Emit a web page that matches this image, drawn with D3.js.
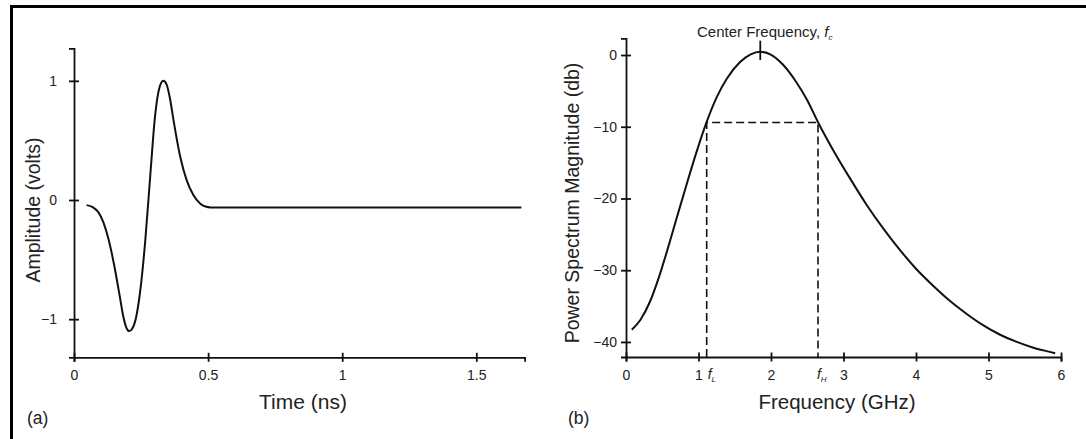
<!DOCTYPE html>
<html>
<head>
<meta charset="utf-8">
<script src="https://cdn.jsdelivr.net/npm/d3@7"></script>
<style>
    body { margin: 0; background: #fff; }
    svg { display: block; font-family: "Liberation Sans", Arial, Helvetica, sans-serif; }
    .tick text { fill: #222; }
</style>
</head>
<body>
<svg id="chart" width="1086" height="439"></svg>
<script>
// (a) pulse
var pulseTime  = [0.047, 0.07, 0.09, 0.11, 0.13, 0.15, 0.17, 0.184, 0.195, 0.206, 0.217, 0.231,
                  0.246, 0.265, 0.284, 0.302, 0.317, 0.333, 0.345, 0.358, 0.371, 0.396, 0.42,
                  0.445, 0.47, 0.49, 0.51, 1.668];
var pulseVolts = [-0.043, -0.06, -0.10, -0.19, -0.34, -0.55, -0.80, -0.98, -1.07, -1.10, -1.08, -0.99,
                  -0.78, -0.36, 0.195, 0.70, 0.93, 1.0, 0.97, 0.85, 0.67, 0.363, 0.167,
                  0.041, -0.03, -0.055, -0.062, -0.062];
var timeTicks = [0, 0.5, 1, 1.5];
var voltTicks = [-1, 0, 1];

// (b) spectrum
var freqGHz = [0.08, 0.2, 0.33, 0.45, 0.57, 0.70, 0.84, 0.98, 1.11, 1.25, 1.39, 1.57, 1.72, 1.85,
               1.99, 2.17, 2.35, 2.50, 2.65, 2.86, 3.09, 3.32, 3.55, 3.78, 4.01, 4.24, 4.47, 4.70,
               4.93, 5.16, 5.39, 5.62, 5.83, 5.92];
var powerDb = [-38.3, -36.9, -34.4, -31.1, -27.2, -22.7, -17.9, -13.3, -9.4, -5.9, -3.3, -1.0, 0.1, 0.45,
               0.1, -1.4, -3.8, -6.3, -9.4, -13.3, -17.2, -20.9, -24.2, -27.2, -29.9, -32.2, -34.3, -36.1,
               -37.7, -39.0, -40.0, -40.8, -41.35, -41.57];
var freqTicks = [0, 1, 2, 3, 4, 5, 6];
var dbTicks = [-40, -30, -20, -10, 0];
var centerFreq = 1.852;
var bandLow = 1.113;
var bandHigh = 2.648;
var bandLevel = -9.4;

var svg = d3.select("#chart");
var ink = "#111";
var face = "'Liberation Sans', Arial, Helvetica, sans-serif";

function fmt(d){
    return d < 0 ? "\u2212" + (-d) : "" + d;
}

// frame (left and top edges only)
svg.append("line").attr("x1", 11.5).attr("y1", 6.5).attr("x2", 1086).attr("y2", 6.5)
    .attr("stroke", "#000").attr("stroke-width", 3);
svg.append("line").attr("x1", 11.5).attr("y1", 5).attr("x2", 11.5).attr("y2", 439)
    .attr("stroke", "#000").attr("stroke-width", 3);

function crossTicks(g, horizontal){
    g.attr("font-family", face);
    g.select(".domain").attr("stroke", ink).attr("stroke-width", 1.8);
    g.selectAll(".tick line").attr("stroke", ink).attr("stroke-width", 1.8);
    if(horizontal){
        g.selectAll(".tick line").attr("y1", -4.5).attr("y2", 4.5);
    } else{
        g.selectAll(".tick line").attr("x1", -5).attr("x2", 5);
    }
    g.selectAll(".tick text").attr("font-size", 14);
}

// ---------- panel (a) ----------
var xL = d3.scaleLinear().domain([0, 1.68]).range([74, 524.6]);
var yL = d3.scaleLinear().domain([-1.32, 1.273]).range([357.3, 48.3]);

var gxL = svg.append("g").attr("transform", "translate(0," + yL(-1.32) + ")")
    .call(d3.axisBottom(xL).tickValues(timeTicks).tickFormat(fmt).tickSizeOuter(0).tickSize(4.5).tickPadding(6));
crossTicks(gxL, true);
gxL.selectAll(".tick text").attr("dy", "0.9em");

var gyL = svg.append("g").attr("transform", "translate(" + xL(0) + ",0)")
    .call(d3.axisLeft(yL).tickValues(voltTicks).tickFormat(fmt).tickSizeOuter(0).tickSize(5).tickPadding(12));
crossTicks(gyL, false);

var pulse = pulseTime.map(function(t, i){ return [t, pulseVolts[i]]; });
svg.append("path").datum(pulse)
    .attr("fill", "none").attr("stroke", ink).attr("stroke-width", 2)
    .attr("d", d3.line().x(function(d){ return xL(d[0]); }).y(function(d){ return yL(d[1]); })
        .curve(d3.curveMonotoneX));

svg.append("text").attr("x", 303).attr("y", 409).attr("text-anchor", "middle")
    .attr("font-size", 21).attr("fill", "#222").text("Time (ns)");
svg.append("text").attr("transform", "translate(40,210) rotate(-90)").attr("text-anchor", "middle")
    .attr("font-size", 19.5).attr("fill", "#222").text("Amplitude (volts)");
svg.append("text").attr("x", 27).attr("y", 424)
    .attr("font-size", 17.5).attr("fill", "#222").text("(a)");

// ---------- panel (b) ----------
var xR = d3.scaleLinear().domain([0, 6]).range([626, 1061]);
var yR = d3.scaleLinear().domain([-42.1, 2.33]).range([357, 38.3]);

var gxR = svg.append("g").attr("transform", "translate(0," + yR(-42.1) + ")")
    .call(d3.axisBottom(xR).tickValues(freqTicks).tickFormat(fmt).tickSizeOuter(0).tickSize(4.5).tickPadding(6));
crossTicks(gxR, true);
gxR.selectAll(".tick text").attr("dy", "0.9em");

var gyR = svg.append("g").attr("transform", "translate(" + xR(0) + ",0)")
    .call(d3.axisLeft(yR).tickValues(dbTicks).tickFormat(fmt).tickSizeOuter(0).tickSize(5).tickPadding(4));
crossTicks(gyR, false);

// -10 dB band
var band = [[bandLow, yR.domain()[0]], [bandLow, bandLevel], [bandHigh, bandLevel], [bandHigh, yR.domain()[0]]];
svg.append("path").datum(band)
    .attr("fill", "none").attr("stroke", ink).attr("stroke-width", 1.6).attr("stroke-dasharray", "8,4")
    .attr("d", d3.line().x(function(d){ return xR(d[0]); }).y(function(d){ return yR(d[1]); }));

var spectrum = freqGHz.map(function(f, i){ return [f, powerDb[i]]; });
svg.append("path").datum(spectrum)
    .attr("fill", "none").attr("stroke", ink).attr("stroke-width", 2)
    .attr("d", d3.line().x(function(d){ return xR(d[0]); }).y(function(d){ return yR(d[1]); })
        .curve(d3.curveMonotoneX));

// center frequency marker
svg.append("line").attr("x1", xR(centerFreq)).attr("x2", xR(centerFreq))
    .attr("y1", yR(2.0)).attr("y2", yR(-0.7))
    .attr("stroke", ink).attr("stroke-width", 1.8);

var cf = svg.append("text").attr("x", 697).attr("y", 37).attr("font-size", 15).attr("fill", "#222");
cf.append("tspan").text("Center Frequency, ");
cf.append("tspan").attr("font-style", "italic").text("f");
cf.append("tspan").attr("font-size", 8).attr("dy", 3).attr("font-style", "italic").text("c");

function bandLabel(x, sub){
    var t = svg.append("text").attr("x", x).attr("y", 379).attr("font-size", 14).attr("fill", "#222");
    t.append("tspan").attr("font-style", "italic").text("f");
    t.append("tspan").attr("font-size", 8).attr("dy", 3).attr("font-style", "italic").text(sub);
}
bandLabel(xR(bandLow) + 1, "L");
bandLabel(xR(bandHigh) - 1, "H");

svg.append("text").attr("x", 837).attr("y", 409).attr("text-anchor", "middle")
    .attr("font-size", 20.5).attr("fill", "#222").text("Frequency (GHz)");
svg.append("text").attr("transform", "translate(579,203) rotate(-90)").attr("text-anchor", "middle")
    .attr("font-size", 19.5).attr("fill", "#222").text("Power Spectrum Magnitude (db)");
svg.append("text").attr("x", 568).attr("y", 424)
    .attr("font-size", 17.5).attr("fill", "#222").text("(b)");
</script>
</body>
</html>
